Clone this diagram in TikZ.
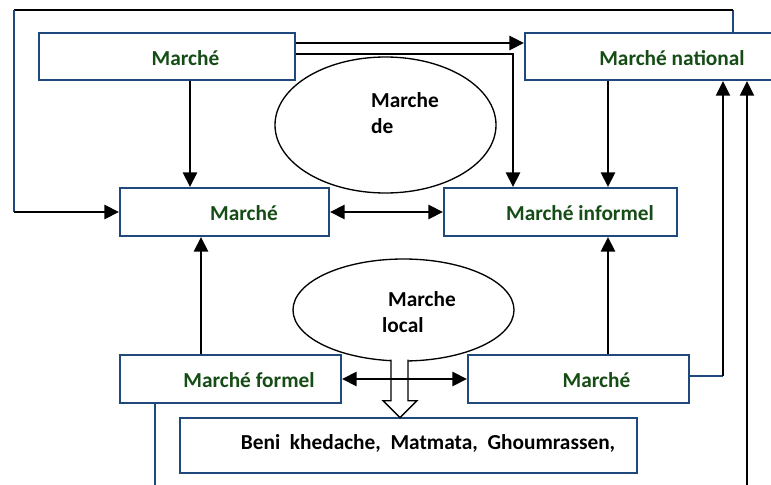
\documentclass[tikz,border=0pt]{standalone}
\usepackage{fontspec}
\setmainfont{Carlito}
\usetikzlibrary{arrows.meta,calc,shapes.geometric}
\definecolor{boxblue}{RGB}{31,73,125}
\definecolor{lblgreen}{RGB}{22,76,22}
\begin{document}
\begin{tikzpicture}[x=0.75pt,y=-0.75pt,
  mbox/.style={draw=boxblue,line width=1.5pt,fill=white,inner sep=0pt,minimum height=36pt},
  mtext/.style={text=lblgreen,inner sep=0pt,font=\fontsize{16}{18}\selectfont\bfseries},
  blob/.style={draw,ellipse,line width=1pt,inner sep=0pt},
  btext/.style={inner sep=0pt,align=left,font=\fontsize{16}{19.5}\selectfont\bfseries},
  arr/.style={line width=2.2pt,-{Triangle[length=11pt,width=10.5pt]}},
  darr/.style={line width=2.2pt,{Triangle[length=11pt,width=10.5pt]}-{Triangle[length=11pt,width=10.5pt]}},
  tarr/.style={line width=1.6pt,-{Triangle[length=11pt,width=10.5pt]}},
  wire/.style={line width=1.5pt},
  hollow/.style={draw,line width=1pt,fill=white}]
\clip (0,0) rectangle (771,485);

% boxes
\node[mbox,minimum width=192pt,minimum height=35.25pt] (mtop) at (167,56.5) {};
\node[mbox,minimum width=198.75pt,minimum height=35.25pt] (nat) at (657.5,56.5) {};
\node[mbox,minimum width=156.75pt] (mmid) at (224.5,212) {};
\node[mbox,minimum width=174.75pt] (inf) at (560.5,212) {};
\node[mbox,minimum width=165.75pt] (frm) at (230.5,379) {};
\node[mbox,minimum width=165.75pt] (mbot) at (578.5,379) {};
\node[mbox,minimum width=342.75pt,minimum height=41.25pt] (beni) at (408.5,445.5) {};

\node[mtext] (tmtop) at (185.5,58) {Marché};
\node[mtext] (tnat) at (672,58) {Marché national};
\node[mtext] (tmmid) at (244,213) {Marché};
\node[mtext] (tinf) at (580,213) {Marché informel};
\node[mtext] (tfrm) at (249,380) {Marché formel};
\node[mtext] (tmbot) at (596.5,380) {Marché};
\node[btext] (tbeni) at (428,443) {Beni\ \ khedache,\ \ Matmata,\ \ Ghoumrassen,};

% ellipses
\node[blob,minimum width=165.75pt,minimum height=102pt] (mde) at (385.5,125) {};
\node[btext] (tmde) at (405,113) {Marche\\de};
\node[blob,minimum width=165.75pt,minimum height=76.5pt] (mloc) at (403.5,310) {};
\node[btext] (tmloc) at (419,312) {\hspace{4.5pt}Marche\\local};

% outer loop
\coordinate (lt) at (14,10);
\coordinate (rt) at (733,10);
\draw[wire,boxblue] (rt) -- (rt |- nat.north);
\draw[wire] (lt) -- (rt);
\draw[wire,boxblue] (lt) -- (lt |- mmid.west);
\draw[arr] (lt |- mmid.west) -- (mmid.west);

% top row
\draw[arr] ($(mtop.east)+(0,-13.5)$) -- ($(nat.west)+(0,-13.5)$);
\draw[arr] ($(mtop.east)+(0,-2.5)$) -| ($(inf.north west)+(70,0)$);
\draw[arr] ($(mtop.south)+(23,0)$) coordinate (a1) -- (a1 |- mmid.north);
\draw[arr] ($(nat.south)+(-49.5,0)$) coordinate (a2) -- (a2 |- inf.north);

% middle and bottom rows
\draw[darr] (mmid) -- (inf);
\draw[arr] ($(frm.north)+(-29.5,0)$) coordinate (a3) -- (a3 |- mmid.south);
\draw[arr] ($(mbot.north)+(29.5,0)$) coordinate (a4) -- (a4 |- inf.south);
\begin{scope}[shift={(mloc.south)}]
  \draw[hollow] (-12.5,-2) -- (-12.5,39) -- (-20.5,39) -- (-3.5,56) -- (13.5,39) -- (4.5,39) -- (4.5,-2);
\end{scope}
\draw[darr] (frm) -- (mbot);

% right side
\coordinate (rv) at (723,376);
\coordinate (rw) at (747,485);
\coordinate (bot) at (0,485);
\draw[wire,boxblue] ($(mbot.east)+(0,-3)$) -- (rv);
\draw[tarr] (rv) -- (rv |- nat.south);
\draw[tarr] (rw) -- (rw |- nat.south);
\draw[wire,boxblue] ($(frm.south)+(-75.5,0)$) coordinate (a6) -- (a6 |- bot);
\end{tikzpicture}
\end{document}
